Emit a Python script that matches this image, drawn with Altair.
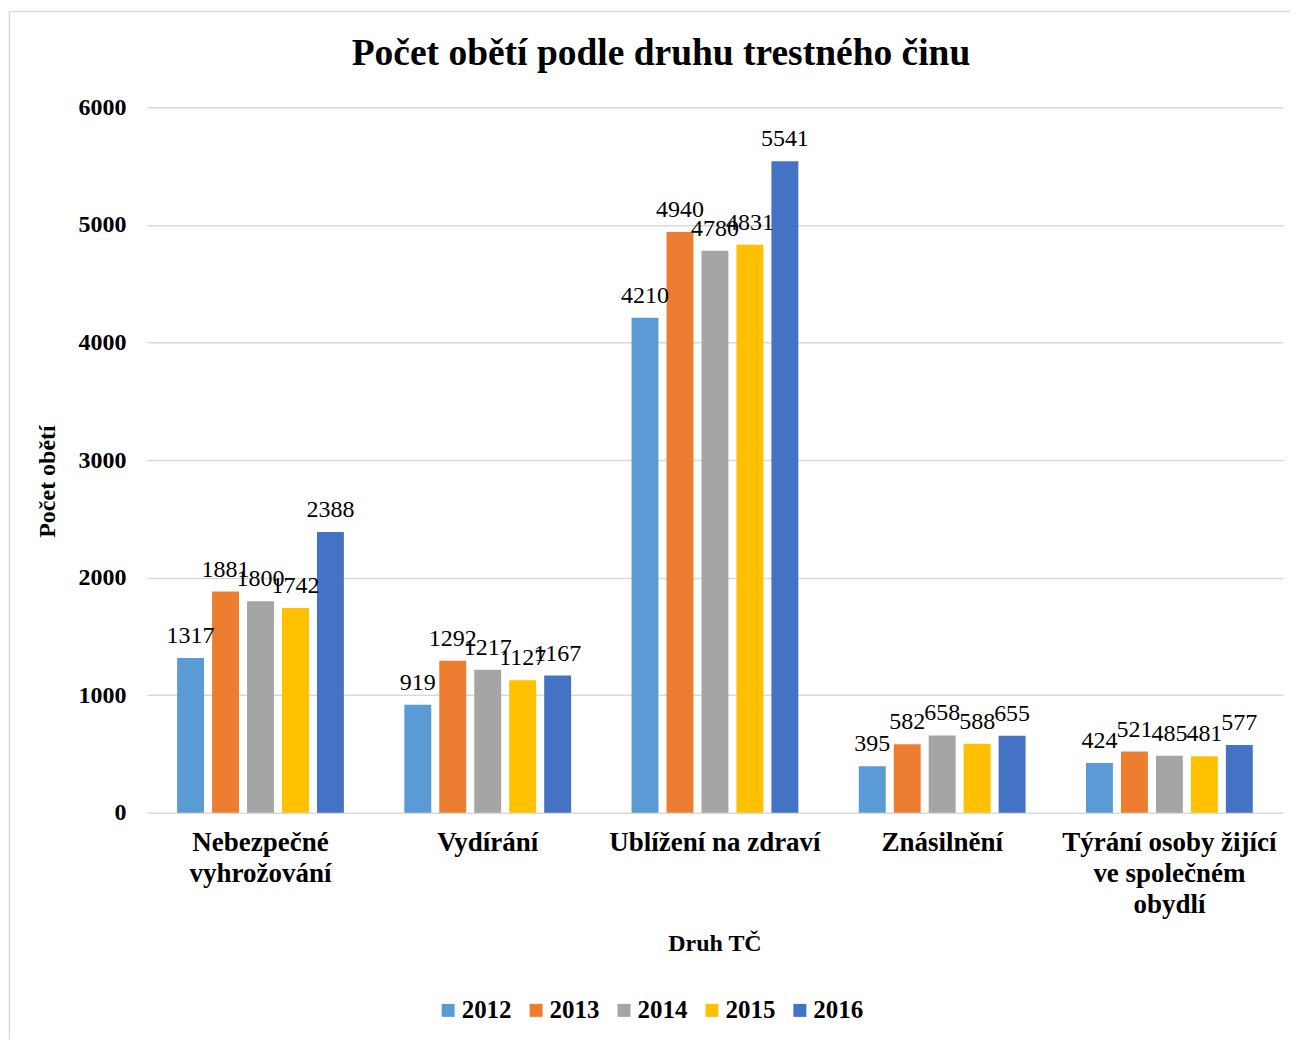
import altair as alt
import pandas as pd

categories = [
    "Nebezpečné vyhrožování",
    "Vydírání",
    "Ublížení na zdraví",
    "Znásilnění",
    "Týrání osoby žijící ve společném obydlí",
]
label_lines = [
    ["Nebezpečné", "vyhrožování"],
    ["Vydírání"],
    ["Ublížení na zdraví"],
    ["Znásilnění"],
    ["Týrání osoby žijící", "ve společném", "obydlí"],
]
years = ["2012", "2013", "2014", "2015", "2016"]
v2012 = [1317, 919, 4210, 395, 424]
v2013 = [1881, 1292, 4940, 582, 521]
v2014 = [1800, 1217, 4780, 658, 485]
v2015 = [1742, 1127, 4831, 588, 481]
v2016 = [2388, 1167, 5541, 655, 577]
colors = ["#5B9BD5", "#ED7D31", "#A5A5A5", "#FFC000", "#4472C4"]
y_ticks = [0, 1000, 2000, 3000, 4000, 5000, 6000]

series = [v2012, v2013, v2014, v2015, v2016]
rows = []
for yr, vals in zip(years, series):
    for c, v in zip(categories, vals):
        rows.append({"Druh": c, "Rok": yr, "Počet": v})
df = pd.DataFrame(rows)

# build label expression with line breaks
expr = "datum.label"
for c, lines in reversed(list(zip(categories, label_lines))):
    arr = "[" + ",".join("'" + l + "'" for l in lines) + "]"
    expr = f"datum.label == '{c}' ? {arr} : ({expr})"

FONT = "Liberation Serif"
W, H = 1137, 706

x_enc = alt.X(
    "Druh:N",
    sort=categories,
    scale=alt.Scale(paddingInner=0.266, paddingOuter=0.133),
    axis=alt.Axis(
        title="Druh TČ",
        labelAngle=0,
        labelExpr=expr,
        labelFont=FONT,
        labelFontSize=27,
        labelFontWeight="bold",
        labelColor="#000000",
        labelLineHeight=31,
        labelLimit=400,
        labelPadding=17,
        labelOverlap=False,
        domain=False,
        ticks=False,
        grid=False,
        titleFont=FONT,
        titleFontSize=24,
        titleFontWeight="bold",
        titleColor="#000000",
        titleX=568,
        titleY=138,
        titleBaseline="alphabetic",
        titleAlign="center",
    ),
)
xo_enc = alt.XOffset(
    "Rok:N", sort=years, scale=alt.Scale(paddingInner=0.23, paddingOuter=0)
)
y_enc = alt.Y(
    "Počet:Q",
    scale=alt.Scale(domain=[0, 6000], nice=False),
    axis=alt.Axis(
        title="Počet obětí",
        values=y_ticks,
        format="d",
        labelFont=FONT,
        labelFontSize=24,
        labelFontWeight="bold",
        labelColor="#000000",
        labelPadding=21,
        domain=False,
        ticks=False,
        grid=True,
        gridColor="#D9D9D9",
        gridWidth=1.5,
        titleFont=FONT,
        titleFontSize=24,
        titleFontWeight="bold",
        titleColor="#000000",
        titleAngle=270,
        titleX=-99,
        titleY=374,
        titleAlign="center",
        titleBaseline="middle",
    ),
)

bars = alt.Chart(df).mark_bar().encode(
    x=x_enc,
    xOffset=xo_enc,
    y=y_enc,
    color=alt.Color(
        "Rok:N",
        sort=years,
        scale=alt.Scale(domain=years, range=colors),
        legend=alt.Legend(
            title=None,
            orient="none",
            direction="horizontal",
            columns=5,
            legendX=289,
            legendY=891,
            padding=0,
            symbolType="square",
            symbolSize=169,
            symbolStrokeWidth=0,
            symbolOpacity=1,
            labelFont=FONT,
            labelFontSize=25,
            labelFontWeight="bold",
            labelColor="#000000",
            labelOffset=1,
            columnPadding=12,
        ),
    ),
)

labels = alt.Chart(df).mark_text(
    font=FONT, fontSize=24, color="#000000", baseline="alphabetic", dy=-15
).encode(
    x=alt.X("Druh:N", sort=categories),
    xOffset=alt.XOffset("Rok:N", sort=years),
    y=alt.Y("Počet:Q"),
    text=alt.Text("Počet:Q", format="d"),
)

frame_df = pd.DataFrame({"k": [0]})
left_line = alt.Chart(frame_df).mark_rule(color="#D9D9D9", strokeWidth=1.5).encode(
    x=alt.value(-137.5), y=alt.value(-96), y2=alt.value(933)
)
top_line = alt.Chart(frame_df).mark_rule(color="#D9D9D9", strokeWidth=1.5).encode(
    x=alt.value(-137.5), x2=alt.value(1144), y=alt.value(-96)
)

chart = (
    alt.layer(left_line, top_line, bars, labels)
    .properties(
        width=W,
        height=H,
        view=alt.ViewBackground(strokeWidth=0, stroke="transparent"),
        padding={"left": 0, "top": 2, "right": 0, "bottom": 0},
        title=alt.TitleParams(
            "Počet obětí podle druhu trestného činu",
            font=FONT,
            fontSize=37.5,
            fontWeight="bold",
            color="#000000",
            anchor="middle",
            baseline="alphabetic",
            offset=-92,
            dx=-54,
        ),
    )
    .configure_view(strokeWidth=0, stroke="transparent")
    .configure(background="white")
)

chart.save("out.html", embed_options={"renderer": "svg", "actions": False})
